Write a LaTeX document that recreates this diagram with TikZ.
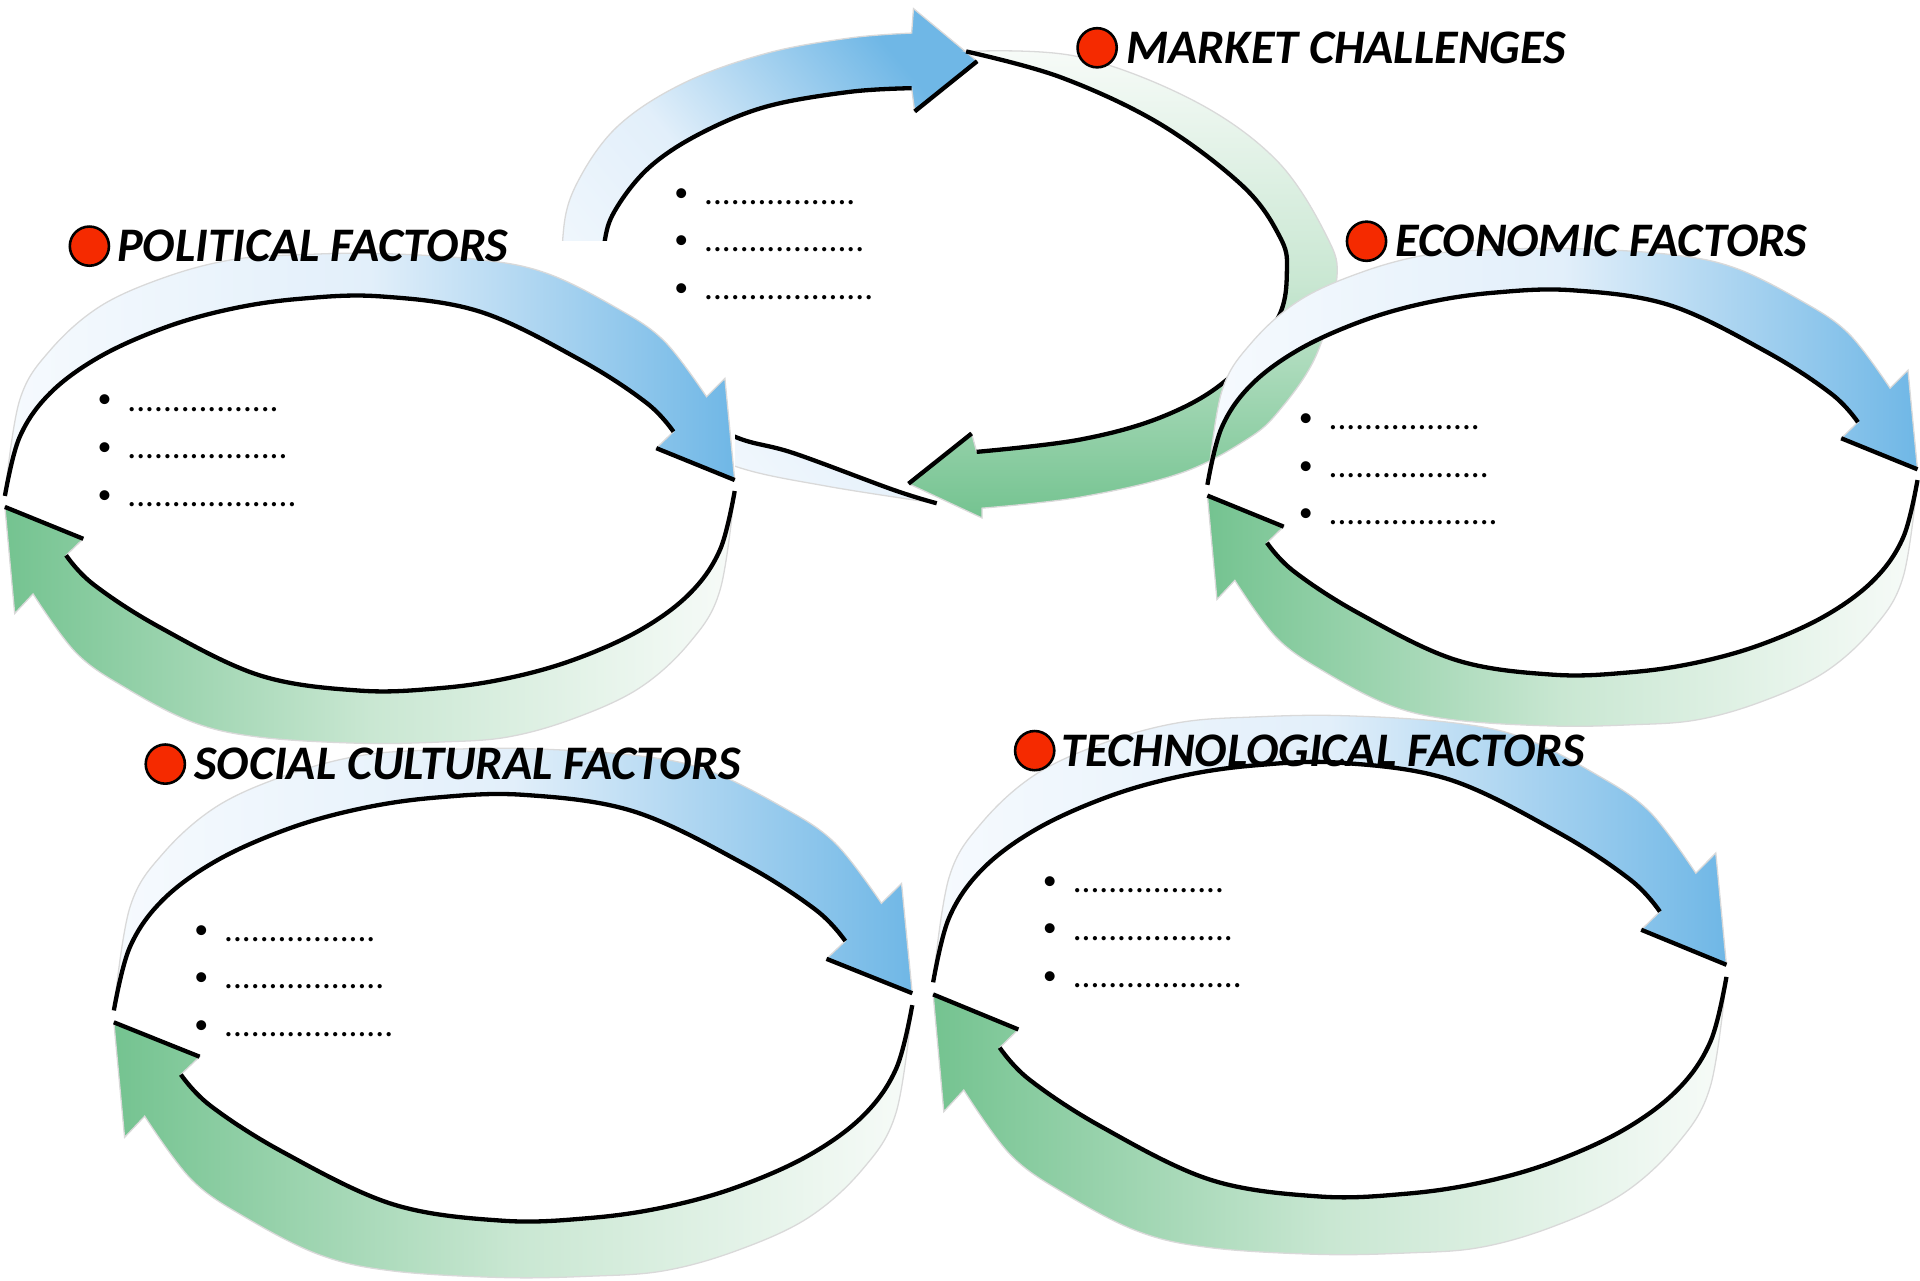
\documentclass[tikz,border=0pt]{standalone}
\usepackage{fontspec}
\setmainfont{Carlito}
\usetikzlibrary{positioning}
\definecolor{blueL}{HTML}{F6FAFE}
\definecolor{blueM}{HTML}{E2EFFA}
\definecolor{blueD}{HTML}{6FB7E6}
\definecolor{greenL}{HTML}{F7FBF8}
\definecolor{greenM}{HTML}{C9E7D2}
\definecolor{greenD}{HTML}{74C390}
\definecolor{dotred}{HTML}{F52A00}
\newcommand{\smallbullet}{\raisebox{0.25mm}{\fontsize{6.5}{6.5}\selectfont\textbullet}\hspace{1.3mm}}
\begin{document}
\begin{tikzpicture}
        [x=0.1mm, y=-0.1mm,
        edge/.style={black, line width=1pt},
        rim/.style={draw=black!15, line width=0.3pt},
        bluefill/.style={left color=blueL, right color=blueD, middle color=blueM},
        greenfill/.style={left color=greenD, right color=greenL, middle color=greenM},
        dot/.style={circle, draw, line width=0.6pt, fill=dotred, minimum size=3.2mm, inner sep=0pt},
        title/.style={font=\fontsize{11.2}{13}\selectfont\bfseries\itshape, inner sep=0pt},
        items/.style={font=\fontsize{8.2}{11.1}\selectfont, align=left, inner sep=0pt, anchor=north west},
        bluearrow/.pic={
          \shade[bluefill, rim] (-298,2) -- plot[smooth, tension=0.6] coordinates {(-298,2) (-286,-76) (-261,-117) (-220,-153) (-166,-177) (-112,-191) (-57,-195) (8,-196) (90,-191) (144,-180) (199,-153) (240,-125) (275,-79)}
            -- (290,-94) -- (298,-11) -- (234,-37) -- (248,-50.5)
            -- plot[smooth, tension=0.6] coordinates {(248,-50.5) (226,-74) (172,-109) (90,-148.5) (8,-161) (-57,-159) (-112,-151) (-166,-136) (-220,-112) (-261,-82) (-286,-46) (-298,2)} -- cycle;
          \draw[edge] plot[smooth, tension=0.6] coordinates {(248,-50.5) (226,-74) (172,-109) (90,-148.5) (8,-161) (-57,-159) (-112,-151) (-166,-136) (-220,-112) (-261,-82) (-286,-46) (-298,2)};
          \draw[edge] (234,-37) -- (298,-11);
        },
        greenarrow/.pic={
          \shade[greenfill, rim] (298,-2) -- plot[smooth, tension=0.6] coordinates {(298,-2) (286,79) (261,122) (220,159) (166,184) (112,199) (57,203) (-8,204) (-90,199) (-144,187) (-199,159) (-240,130) (-275,82)}
            -- (-290,98) -- (-298,11) -- (-234,37) -- (-248,50.5)
            -- plot[smooth, tension=0.6] coordinates {(-248,50.5) (-226,74) (-172,109) (-90,148.5) (-8,161) (57,159) (112,151) (166,136) (220,112) (261,82) (286,46) (298,-2)} -- cycle;
          \draw[edge] plot[smooth, tension=0.6] coordinates {(-248,50.5) (-226,74) (-172,109) (-90,148.5) (-8,161) (57,159) (112,151) (166,136) (220,112) (261,82) (286,46) (298,-2)};
          \draw[edge] (-234,37) -- (-298,11);
        }]

        \useasboundingbox (0,0) rectangle (1568,1046);

        % market challenges ring (drawn first, partly hidden)
        \shade[top color=blueD, bottom color=blueL, middle color=blueM, shading angle=-50, rim] (765,411) -- plot[smooth, tension=0.6] coordinates {(765,411) (675,397) (601,381) (540,352) (490,300) (463,240) (460,190) (471,150) (504,103.5) (558,68) (626,43.5) (694,31) (744.5,27)}
            -- (746,7) -- (798,50) -- (747,91) -- (744.5,72)
            -- plot[smooth, tension=0.6] coordinates {(744.5,72) (694,75) (626,87) (572,109) (531,136) (504,169) (494,196) (492,240) (510,290) (550,330) (601,357) (648,370) (729.5,400) (765,411)} -- cycle;
        \draw[edge] plot[smooth, tension=0.6] coordinates {(744.5,72) (694,75) (626,87) (572,109) (531,136) (504,169) (494,196) (492,240) (510,290) (550,330) (601,357) (648,370) (729.5,400) (765,411)};
        \draw[edge] (747,91) -- (798,50);

        \shade[top color=greenL, bottom color=greenD, middle color=greenM, rim] (789,42) -- plot[smooth, tension=0.6] coordinates {(789,42) (866,63) (947,101) (1015,152) (1045,193) (1051,220) (1043,261) (1002,310) (950,340) (882,359) (797.6,369)}
            -- (793.5,354) -- (742,395) -- (802,423) -- (802,415)
            -- plot[smooth, tension=0.6] coordinates {(802,415) (882,406) (964,386.5) (1018,359) (1045,335) (1075,290) (1091.6,229) (1083.5,193) (1042.6,131) (974.5,82) (879,46) (789,42)} -- cycle;
        \draw[edge] plot[smooth, tension=0.6] coordinates {(789,42) (866,63) (947,101) (1015,152) (1045,193) (1051,220) (1043,261) (1002,310) (950,340) (882,359) (797.6,369)};
        \draw[edge] (793.5,354) -- (742,395);

        % white ground of the political ring
        \fill[white] (430,196.5) rectangle (600.5,440);

        % the four other rings
        \pic at (302,403) {bluearrow};
        \pic at (302,403) {greenarrow};
        \pic[xscale=0.973, yscale=0.975] at (1276,394) {bluearrow};
        \pic[xscale=0.973, yscale=0.975] at (1276,394) {greenarrow};
        \pic[xscale=1.094, yscale=1.08] at (419,823) {bluearrow};
        \pic[xscale=1.094, yscale=1.08] at (419,823) {greenarrow};
        \pic[xscale=1.087, yscale=1.1] at (1086,800) {bluearrow};
        \pic[xscale=1.087, yscale=1.1] at (1086,800) {greenarrow};

        % titles with red dots
        \node[dot] (mdot) at (896,39) {};
        \node[title, right=0.6mm of mdot] (mtitle) {MARKET CHALLENGES};
        \node[dot] (pdot) at (73,201) {};
        \node[title, right=0.5mm of pdot] (ptitle) {POLITICAL FACTORS};
        \node[dot] (edot) at (1116,197) {};
        \node[title, right=0.6mm of edot] (etitle) {ECONOMIC FACTORS};
        \node[dot] (sdot) at (135,624) {};
        \node[title, right=0.6mm of sdot] (stitle) {SOCIAL CULTURAL FACTORS};
        \node[dot] (tdot) at (845,613) {};
        \node[title, right=0.4mm of tdot] (ttitle) {TECHNOLOGICAL FACTORS};

        % bullet lists
        \node[items] (mlist) at (550,153) {\smallbullet.................\\ \smallbullet..................\\ \smallbullet...................};
        \node[items] (plist) at (79,322) {\smallbullet.................\\ \smallbullet..................\\ \smallbullet...................};
        \node[items] (elist) at (1060,337) {\smallbullet.................\\ \smallbullet..................\\ \smallbullet...................};
        \node[items] (slist) at (158,755) {\smallbullet.................\\ \smallbullet..................\\ \smallbullet...................};
        \node[items] (tlist) at (851,715) {\smallbullet.................\\ \smallbullet..................\\ \smallbullet...................};

    \end{tikzpicture}
\end{document}
